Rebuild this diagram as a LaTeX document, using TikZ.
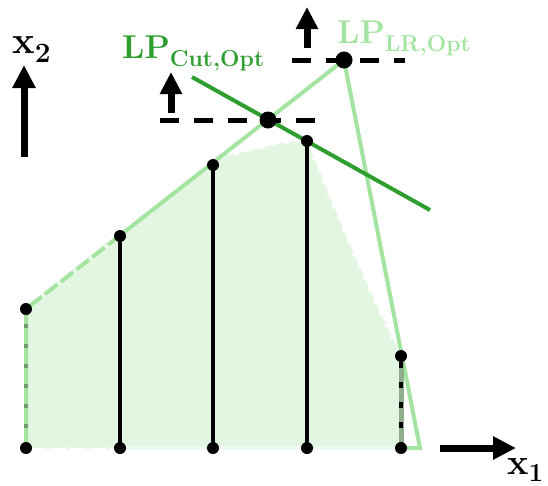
\documentclass[tikz,border=0pt]{standalone}
\usepackage{tikz}
\usepackage{xcolor}
\usetikzlibrary{positioning,arrows.meta}
\definecolor{lrgreen}{HTML}{A3E4A0}
\definecolor{cutgreen}{HTML}{2E9E2E}
\definecolor{hullfill}{HTML}{E3F6E1}
\definecolor{hulledge}{HTML}{EDF9EC}
\definecolor{edgegray}{HTML}{8EAE8C}
\definecolor{edgedark}{HTML}{6E9A6C}

\begin{document}
\begin{tikzpicture}[x=1pt,y=-1pt,
  dot/.style={circle,fill=black,inner sep=0pt,minimum size=12pt},
  optdot/.style={circle,fill=black,inner sep=0pt,minimum size=17pt},
  bar/.style={line width=4pt},
  lrline/.style={lrgreen,line width=4pt},
  objline/.style={line width=5pt,dash pattern=on 19pt off 15pt},
  ticks/.style={line width=4pt,dash pattern=on 4pt off 16pt},
  axis/.style={line width=7pt,-{Triangle[length=23pt,width=22pt]}},
  improve/.style={line width=7pt,-{Triangle[length=22pt,width=21pt]}}]
  \useasboundingbox (0,0) rectangle (548,485);
  \coordinate (b0) at (26,448);
  \coordinate (b1) at (120,448);
  \coordinate (b2) at (213,448);
  \coordinate (b3) at (307,448);
  \coordinate (b4) at (401,448);
  \coordinate (t0) at (26,309);
  \coordinate (t1) at (120,236);
  \coordinate (t2) at (213,165);
  \coordinate (t3) at (307,141);
  \coordinate (t4) at (401,356);
  \coordinate (lr) at (344,60);
  \coordinate (cut) at (268,120);
  \coordinate (corner) at (420,448);
  \coordinate (cutstart) at (192,77);
  \coordinate (cutend) at (430,210);
  \coordinate (bend) at (222,156);
  \fill[hullfill] (b0) -- (t0) -- (bend) .. controls (250,153) and (282,139) .. (t3)
    .. controls (318,165) and (355,265) .. (399,350) -- (b4) -- cycle;
  \draw[white,line width=4pt,dash pattern=on 3pt off 10pt] (bend) .. controls (250,153) and (282,139) .. (t3)
    .. controls (318,165) and (355,265) .. (399,350);
  \draw[lrline,line join=miter] (b0) -- (t0) -- (lr) -- (corner) -- (b4);
  \draw[hulledge,line width=4pt] (b1) -- (b4);
  \draw[ticks,hulledge] (b0) -- (b1);
  \draw[ticks,hulledge] (t0) -- (t1);
  \draw[ticks,edgedark] (b0) -- (t0);
  \draw[edgegray,line width=5pt] (b4) -- (t4);
  \draw[line width=4pt,dash pattern=on 6pt off 14pt] (b4) -- (t4);
  \draw[bar] (b1) -- (t1);
  \draw[bar] (b2) -- (t2);
  \draw[bar] (b3) -- (t3);
  \draw[cutgreen,line width=4pt] (cutstart) -- (cutend);
  \coordinate (lvlA) at (160,120);
  \coordinate (lvlB) at (317,120);
  \coordinate (lvlC) at (292,60);
  \coordinate (lvlD) at (405,60);
  \draw[objline] (lvlA) -- (lvlB);
  \draw[objline] (lvlC) -- (lvlD);
  \coordinate (upA) at (171,113);
  \coordinate (upAtip) at (171,72);
  \coordinate (upB) at (307,48);
  \coordinate (upBtip) at (307,7);
  \draw[improve] (upA) -- (upAtip);
  \draw[improve] (upB) -- (upBtip);
  \coordinate (yfoot) at (24,157);
  \coordinate (ytip) at (24,65);
  \coordinate (xfoot) at (440,448);
  \coordinate (xtip) at (516,448);
  \draw[axis] (yfoot) -- (ytip);
  \draw[axis] (xfoot) -- (xtip);
  \node[dot] (pb0) at (b0) {};
  \node[dot] (pb1) at (b1) {};
  \node[dot] (pb2) at (b2) {};
  \node[dot] (pb3) at (b3) {};
  \node[dot] (pb4) at (b4) {};
  \node[dot] (pt0) at (t0) {};
  \node[dot] (pt1) at (t1) {};
  \node[dot] (pt2) at (t2) {};
  \node[dot] (pt3) at (t3) {};
  \node[dot] (pt4) at (t4) {};
  \node[optdot] (lropt) at (lr) {};
  \node[optdot] (cutopt) at (cut) {};
  \node[anchor=base west,inner sep=0pt,text=cutgreen] (cutlabel) at (122,58)
    {\fontsize{33}{36}\selectfont\bfseries LP\raisebox{-8pt}{\fontsize{23}{24}\selectfont Cut,Opt}};
  \node[anchor=base west,inner sep=0pt,text=lrgreen] (lrlabel) at (337,43)
    {\fontsize{33}{36}\selectfont\bfseries LP\raisebox{-8pt}{\fontsize{23}{24}\selectfont LR,Opt}};
  \node[anchor=base west,inner sep=0pt] (ylabel) at (12,53)
    {\fontsize{38}{40}\selectfont\bfseries x\raisebox{-9pt}{\fontsize{28}{30}\selectfont 2}};
  \node[anchor=base west,inner sep=0pt] (xlabel) at (507,474)
    {\fontsize{36}{38}\selectfont\bfseries x\raisebox{-7pt}{\fontsize{26}{28}\selectfont 1}};
\end{tikzpicture}
\end{document}
